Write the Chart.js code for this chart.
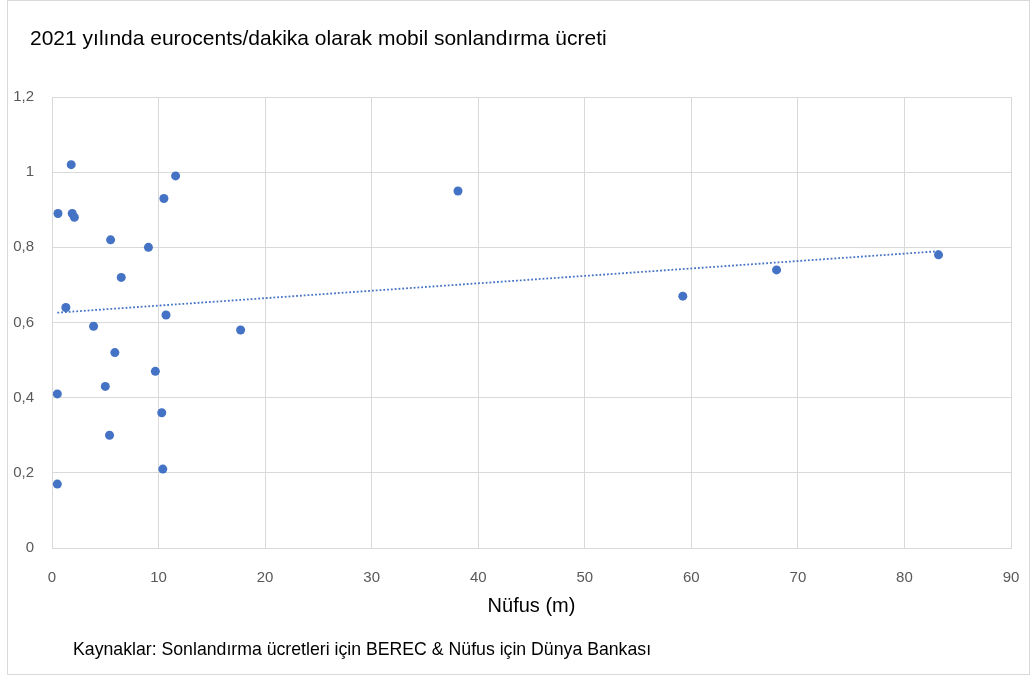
<!DOCTYPE html>
<html>
<head>
<meta charset="utf-8">
<script src="https://cdn.jsdelivr.net/npm/chart.js@4"></script>
<style>
    body { margin: 0; background: #fff; }
    #box {
        position: absolute; left: 7px; top: 0; width: 1023px; height: 675px;
        border: 1px solid #d9d9d9; box-sizing: border-box;
    }
    #wrap { position: absolute; left: 0; top: 0; width: 1034px; height: 679px; }
    .txt {
        position: absolute; font-family: "Liberation Sans", Arial, sans-serif;
        color: #000; white-space: nowrap;
    }
    #title { left: 30px; top: 26px; font-size: 21px; }
    #source { left: 73px; top: 639px; font-size: 17.7px; }
</style>
</head>
<body>
<div id="box"></div>
<div id="wrap"><canvas id="chart" width="1034" height="679"></canvas></div>
<div id="title" class="txt">2021 yılında eurocents/dakika olarak mobil sonlandırma ücreti</div>
<div id="source" class="txt">Kaynaklar: Sonlandırma ücretleri için BEREC &amp; Nüfus için Dünya Bankası</div>
<script>
// population (millions) and termination rate (eurocents/min)
const population = [0.5, 0.5, 0.56, 1.3, 1.8, 1.9, 2.1, 3.9, 5.0, 5.4, 5.5, 5.9, 6.5,
    9.05, 9.7, 10.3, 10.4, 10.5, 10.7, 11.6, 17.7, 38.1, 59.2, 68.0, 83.2];
const rates = [0.17, 0.41, 0.89, 0.64, 1.02, 0.89, 0.88, 0.59, 0.43, 0.30, 0.82, 0.52, 0.72,
    0.80, 0.47, 0.36, 0.21, 0.93, 0.62, 0.99, 0.58, 0.95, 0.67, 0.74, 0.78];

const xTicks = [0, 10, 20, 30, 40, 50, 60, 70, 80, 90];
const yTicks = [0, 0.2, 0.4, 0.6, 0.8, 1, 1.2];

const xTitle = 'Nüfus (m)';

// least squares trend line, like the Excel linear trendline
function linearFit(xs, ys) {
    const n = xs.length;
    const mx = xs.reduce((a, b) => a + b, 0) / n;
    const my = ys.reduce((a, b) => a + b, 0) / n;
    let sxy = 0, sxx = 0;
    for (let i = 0; i < n; i++) {
        sxy += (xs[i] - mx) * (ys[i] - my);
        sxx += (xs[i] - mx) * (xs[i] - mx);
    }
    const slope = sxy / sxx;
    return { slope, intercept: my - slope * mx };
}

const fit = linearFit(population, rates);
const xMin = Math.min(...population);
const xMax = Math.max(...population);
const trend = [
    { x: xMin, y: fit.intercept + fit.slope * xMin },
    { x: xMax, y: fit.intercept + fit.slope * xMax }
];

const points = population.map((p, i) => ({ x: p, y: rates[i] }));

const tickFont = { family: '"Liberation Sans", Arial, sans-serif', size: 15 };
const blue = '#4472C4';

new Chart(document.getElementById('chart'), {
    type: 'scatter',
    data: {
        datasets: [
            {
                label: 'Ücret',
                data: points,
                backgroundColor: blue,
                borderColor: blue,
                pointRadius: 4.5,
                pointHoverRadius: 4.5,
                borderWidth: 0
            },
            {
                type: 'line',
                label: 'Trend',
                data: trend,
                borderColor: blue,
                borderWidth: 1.8,
                borderDash: [1.8, 2],
                pointRadius: 0,
                fill: false
            }
        ]
    },
    options: {
        responsive: false,
        animation: false,
        layout: { padding: { left: 7, top: 97, right: 23, bottom: 51 } },
        plugins: {
            legend: { display: false },
            tooltip: { enabled: false }
        },
        scales: {
            x: {
                type: 'linear',
                min: 0,
                max: 90,
                afterBuildTicks: (scale) => { scale.ticks = xTicks.map(v => ({ value: v })); },
                afterFit: (scale) => {
                    scale.height = 80;
                    // let the layout padding alone set the plot edges
                    scale.paddingLeft = 0;
                    scale.paddingRight = 0;
                },
                grid: { color: '#d9d9d9', lineWidth: 1, drawTicks: false },
                border: { color: '#d9d9d9' },
                ticks: { color: '#595959', font: tickFont, padding: 21, maxRotation: 0 },
                title: {
                    display: true,
                    text: xTitle,
                    color: '#000',
                    font: { family: '"Liberation Sans", Arial, sans-serif', size: 20 },
                    padding: { top: 8, bottom: 10 }
                }
            },
            y: {
                min: 0,
                max: 1.2,
                afterBuildTicks: (scale) => { scale.ticks = yTicks.map(v => ({ value: v })); },
                afterFit: (scale) => { scale.width = 45; },
                grid: { color: '#d9d9d9', lineWidth: 1, drawTicks: false },
                border: { color: '#d9d9d9' },
                ticks: {
                    color: '#595959',
                    font: tickFont,
                    padding: 18,
                    callback: (v) => String(Math.round(v * 10) / 10).replace('.', ',')
                }
            }
        }
    }
});
</script>
</body>
</html>
